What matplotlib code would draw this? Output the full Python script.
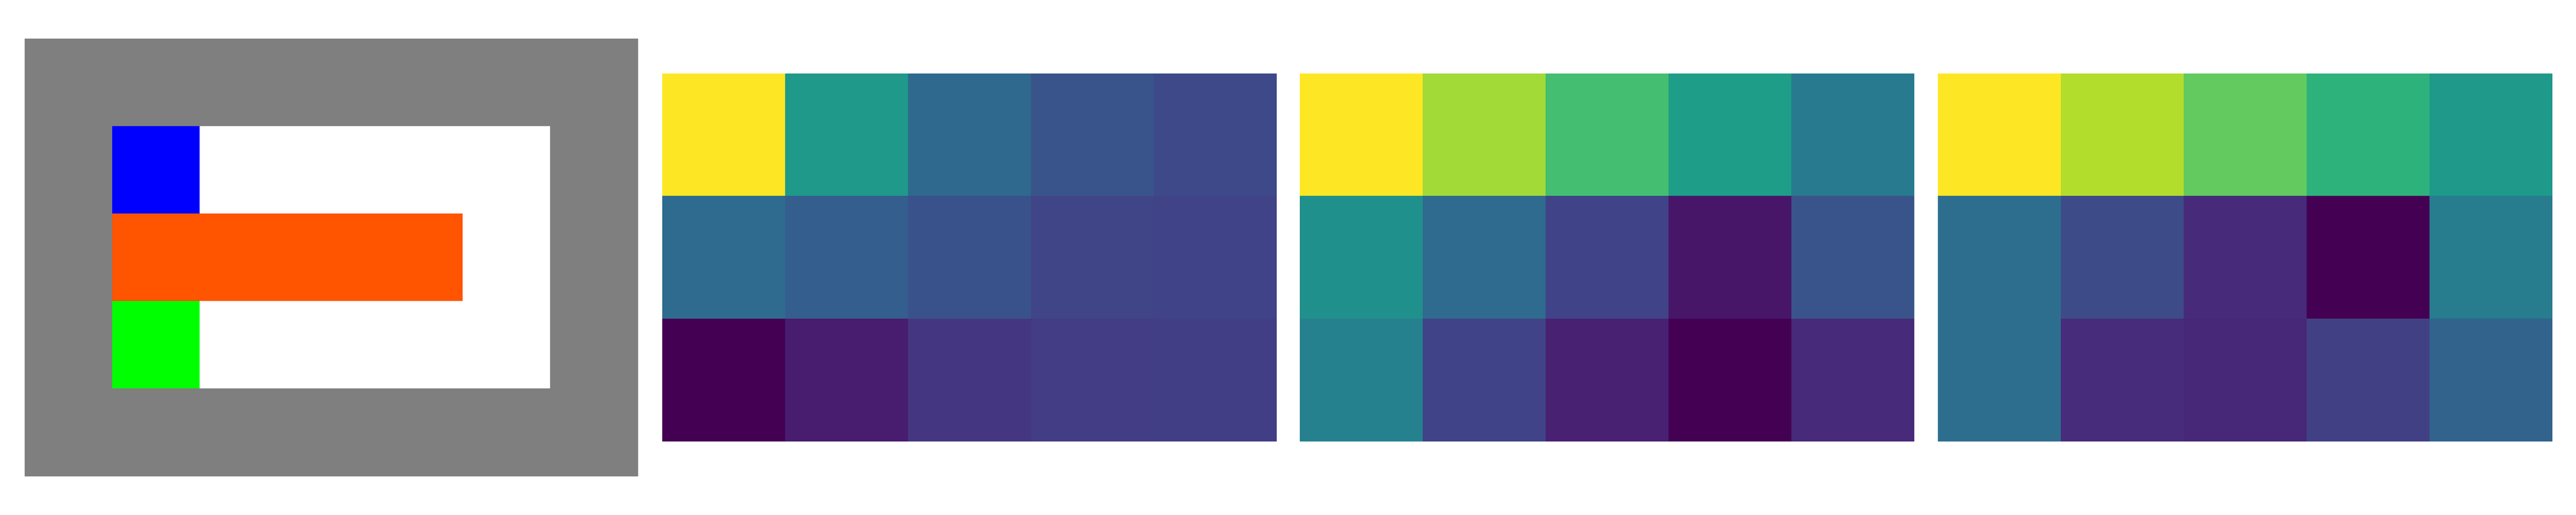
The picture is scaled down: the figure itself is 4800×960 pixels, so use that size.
import matplotlib
matplotlib.use("Agg")
import matplotlib.pyplot as plt
import numpy as np

# Panel 1: colour image, 5 rows x 7 columns of colour keys
GRAY = (0.5, 0.5, 0.5)
WHITE = (1.0, 1.0, 1.0)
BLUE = (0.0, 0.0, 1.0)
ORANGE = (1.0, 0.333, 0.0)
GREEN = (0.0, 1.0, 0.0)
image_rows = [
    [GRAY, GRAY, GRAY, GRAY, GRAY, GRAY, GRAY],
    [GRAY, BLUE, WHITE, WHITE, WHITE, WHITE, GRAY],
    [GRAY, ORANGE, ORANGE, ORANGE, ORANGE, WHITE, GRAY],
    [GRAY, GREEN, WHITE, WHITE, WHITE, WHITE, GRAY],
    [GRAY, GRAY, GRAY, GRAY, GRAY, GRAY, GRAY],
]

heat_a = [
    [1.00, 0.54, 0.34, 0.26, 0.22],
    [0.35, 0.30, 0.25, 0.21, 0.20],
    [0.00, 0.08, 0.16, 0.18, 0.185],
]
heat_b = [
    [1.00, 0.86, 0.70, 0.56, 0.41],
    [0.50, 0.35, 0.20, 0.06, 0.26],
    [0.44, 0.20, 0.09, 0.00, 0.12],
]
heat_c = [
    [1.00, 0.885, 0.76, 0.645, 0.54],
    [0.36, 0.23, 0.12, 0.00, 0.42],
    [0.36, 0.125, 0.11, 0.19, 0.32],
]

fig, axs = plt.subplots(1, 4, figsize=(48, 9.6), dpi=100)
plt.subplots_adjust(left=45 / 4800, right=4755 / 4800, bottom=0.075, top=0.925, wspace=0.039)

axs[0].imshow(np.array(image_rows), interpolation="nearest")
for ax, data in zip(axs[1:], [heat_a, heat_b, heat_c]):
    ax.imshow(np.array(data), cmap="viridis", vmin=0, vmax=1, interpolation="nearest")

for ax in axs:
    ax.axis("off")

fig.savefig("out.png", dpi=100)
